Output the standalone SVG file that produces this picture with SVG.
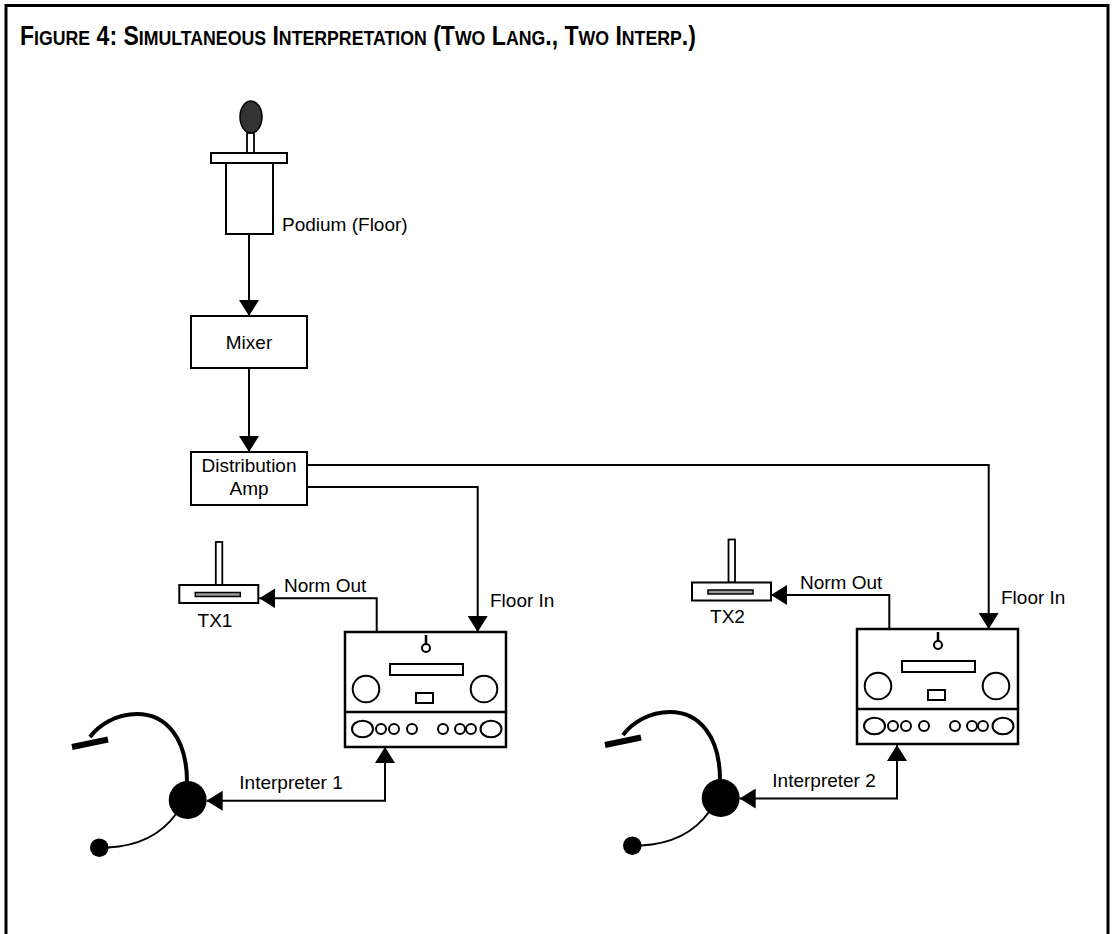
<svg xmlns="http://www.w3.org/2000/svg" xmlns:xlink="http://www.w3.org/1999/xlink" width="1113" height="934" viewBox="0 0 1113 934">
<style>
.lbl{font-family:"Liberation Sans",Arial,sans-serif;font-size:19px;fill:#000}
.box{fill:#fff;stroke:#000;stroke-width:2}
.wire{fill:none;stroke:#000;stroke-width:2}
.ttl{font-family:"Liberation Sans",Arial,sans-serif;font-weight:bold;fill:#000}
.b{font-size:26px}
.s{font-size:20px}
</style>
<defs>
<marker id="ah" markerUnits="userSpaceOnUse" markerWidth="16" markerHeight="20" refX="16" refY="10" orient="auto-start-reverse" viewBox="0 0 16 20">
<path d="M0,0 L16,10 L0,20 z" fill="#000"/>
</marker>
<g id="console">
<rect x="0" y="0" width="161" height="115" fill="#fff" stroke="#000" stroke-width="2.5"/>
<line x1="0" y1="80" x2="161" y2="80" stroke="#000" stroke-width="2.5"/>
<line x1="81" y1="3" x2="81" y2="13" stroke="#000" stroke-width="2.5"/>
<circle cx="81" cy="16" r="4" fill="#fff" stroke="#000" stroke-width="2"/>
<rect x="45" y="32" width="73" height="11" fill="#fff" stroke="#000" stroke-width="2"/>
<circle cx="21" cy="57" r="13.3" fill="#fff" stroke="#000" stroke-width="2"/>
<circle cx="139" cy="57" r="13.3" fill="#fff" stroke="#000" stroke-width="2"/>
<rect x="71" y="61" width="17" height="10" fill="#fff" stroke="#000" stroke-width="2"/>
<g fill="#fff" stroke="#000" stroke-width="2">
<ellipse cx="17.5" cy="97" rx="10.5" ry="8.3"/>
<circle cx="36" cy="97" r="5"/>
<circle cx="49" cy="97" r="5"/>
<circle cx="67" cy="97" r="5"/>
<circle cx="98" cy="97" r="5"/>
<circle cx="115" cy="97" r="5"/>
<circle cx="126" cy="97" r="5"/>
<ellipse cx="146" cy="97" rx="10.5" ry="8.3"/>
</g>
</g>
<g id="tx">
<rect x="36.5" y="-43" width="6.5" height="43" fill="#fff" stroke="#000" stroke-width="1.8"/>
<rect x="0" y="0" width="79" height="18" fill="#fff" stroke="#000" stroke-width="2"/>
<rect x="16" y="7.5" width="45" height="4" fill="#999" stroke="#000" stroke-width="1.5"/>
</g>
<g id="headset">
<path d="M187,782 C187,738 166,714 137,714 C116,714 99,725 90,737" fill="none" stroke="#000" stroke-width="4"/>
<line x1="72" y1="747" x2="108" y2="739.5" stroke="#000" stroke-width="6"/>
<path d="M176,814 C160,836 138,846 108,847.5" fill="none" stroke="#000" stroke-width="2"/>
<circle cx="187.7" cy="800" r="19" fill="#000"/>
<circle cx="99.3" cy="847.7" r="9.3" fill="#000"/>
</g>
</defs>

<rect x="0" y="0" width="1113" height="934" fill="#fff"/>
<path d="M6,934 L6,5.5 L1108,5.5 L1108,934" fill="none" stroke="#000" stroke-width="3"/>

<g id="title" transform="translate(20,45) scale(0.886,1.03)">
<text class="ttl" x="0" y="0"><tspan class="b">F</tspan><tspan class="s">IGURE</tspan><tspan class="b"> 4: S</tspan><tspan class="s">IMULTANEOUS</tspan><tspan class="b"> I</tspan><tspan class="s">NTERPRETATION</tspan><tspan class="b"> (T</tspan><tspan class="s">WO</tspan><tspan class="b"> L</tspan><tspan class="s">ANG</tspan><tspan class="b">., T</tspan><tspan class="s">WO</tspan><tspan class="b"> I</tspan><tspan class="s">NTERP</tspan><tspan class="b">.)</tspan></text>
</g>

<g id="connectors">
<path class="wire" d="M249,234 L249,316" marker-end="url(#ah)"/>
<path class="wire" d="M249,368 L249,452" marker-end="url(#ah)"/>
<path class="wire" d="M307,465 L988.7,465 L988.7,629" marker-end="url(#ah)"/>
<path class="wire" d="M307,487 L477.7,487 L477.7,632" marker-end="url(#ah)"/>
<path class="wire" d="M376.7,632 L376.7,598.3 L259.3,598.3" marker-end="url(#ah)"/>
<path class="wire" d="M889.3,629 L889.3,595 L771,595" marker-end="url(#ah)"/>
<path class="wire" d="M206.7,800.7 L385,800.7 L385,747" marker-start="url(#ah)" marker-end="url(#ah)"/>
<path class="wire" d="M739.7,798.5 L897,798.5 L897,745" marker-start="url(#ah)" marker-end="url(#ah)"/>
<text class="lbl" x="284" y="591.7">Norm Out</text>
<text class="lbl" x="800" y="588.5">Norm Out</text>
<text class="lbl" x="490" y="607">Floor In</text>
<text class="lbl" x="1001" y="604">Floor In</text>
<text class="lbl" x="239.3" y="789">Interpreter 1</text>
<text class="lbl" x="772.3" y="787">Interpreter 2</text>
</g>

<g id="podium">
<ellipse cx="251" cy="117" rx="11" ry="16" fill="#333" stroke="#000" stroke-width="1.5"/>
<rect x="247" y="133" width="7" height="20" fill="#fff" stroke="#000" stroke-width="1.8"/>
<rect x="211" y="153" width="76" height="10" class="box"/>
<rect x="226" y="163" width="47" height="71" class="box"/>
<text class="lbl" x="282" y="231">Podium (Floor)</text>
</g>

<g id="mixer">
<rect x="191" y="316" width="116" height="52" class="box"/>
<text class="lbl" x="249" y="349" text-anchor="middle">Mixer</text>
</g>

<g id="distribution-amp">
<rect x="191" y="452" width="116" height="53" class="box"/>
<text class="lbl" x="249" y="472" text-anchor="middle">Distribution</text>
<text class="lbl" x="249" y="495" text-anchor="middle">Amp</text>
</g>

<g id="tx1">
<use xlink:href="#tx" x="179.3" y="585"/>
<text class="lbl" x="215" y="626.7" text-anchor="middle">TX1</text>
</g>

<g id="tx2">
<use xlink:href="#tx" x="692" y="582.5"/>
<text class="lbl" x="727.5" y="623.3" text-anchor="middle">TX2</text>
</g>

<g id="console1">
<use xlink:href="#console" x="345" y="632"/>
</g>

<g id="console2">
<use xlink:href="#console" x="857" y="629"/>
</g>

<g id="headset1">
<use xlink:href="#headset"/>
</g>

<g id="headset2">
<use xlink:href="#headset" x="533" y="-2"/>
</g>
</svg>
